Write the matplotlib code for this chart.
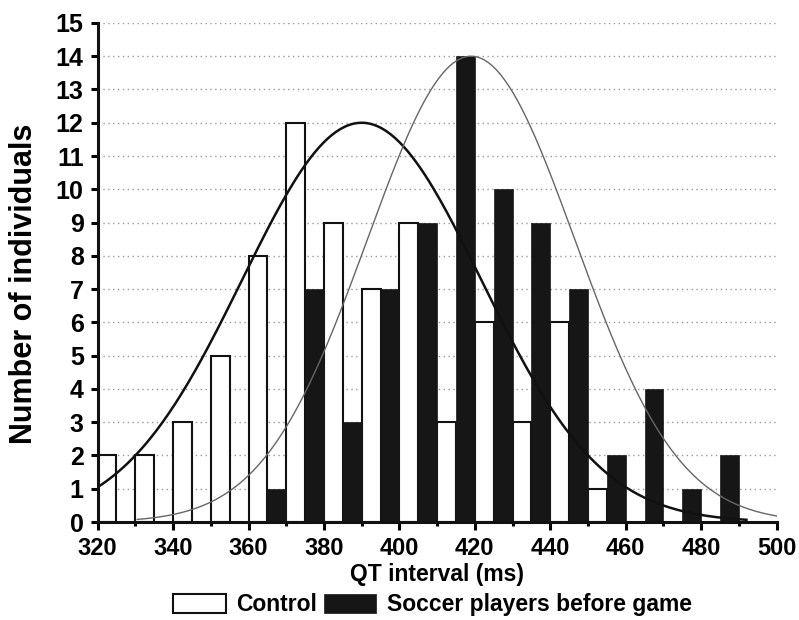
import numpy as np
import matplotlib
matplotlib.use("Agg")
import matplotlib.pyplot as plt

plt.rcParams['font.family'] = ['Liberation Sans', 'DejaVu Sans']
plt.rcParams['font.weight'] = 'bold'

# histogram counts, 10 ms bins (left edge of each bin)
control_bins = [320, 330, 340, 350, 360, 370, 380, 390, 400, 410, 420, 430, 440, 450]
control_counts = [2, 2, 3, 5, 8, 12, 9, 7, 9, 3, 6, 3, 6, 1]
soccer_bins = [360, 370, 380, 390, 400, 410, 420, 430, 440, 450, 460, 470, 480]
soccer_counts = [1, 7, 3, 7, 9, 14, 10, 9, 7, 2, 4, 1, 2]

# normal curve fits: mean, sd, peak height, x range
control_fit = dict(mean=390, sd=31.7, peak=12, start=320, end=492)
soccer_fit = dict(mean=419, sd=27.5, peak=14, start=330.5, end=500)

fig = plt.figure(figsize=(7.99, 6.2), dpi=100)
ax = fig.add_axes([0.1222, 0.158, 0.8498, 0.805])

ax.bar(control_bins, control_counts, width=5, align='edge', color='white',
       edgecolor='#111111', linewidth=1.5, label='Control', zorder=2)
ax.bar([b + 5 for b in soccer_bins], soccer_counts, width=5, align='edge', color='#161616',
       edgecolor='#161616', linewidth=0.5, label='Soccer players before game', zorder=2)


def normal_curve(fit):
    x = np.linspace(fit['start'], fit['end'], 300)
    y = fit['peak'] * np.exp(-(x - fit['mean']) ** 2 / (2 * fit['sd'] ** 2))
    return x, y


cx, cy = normal_curve(control_fit)
ax.plot(cx, cy, color='#111111', lw=1.8, zorder=3)
sx, sy = normal_curve(soccer_fit)
ax.plot(sx, sy, color='#666666', lw=1.0, zorder=3)

ax.set_xlim(320, 500)
ax.set_ylim(0, 15)
ax.set_xticks(range(320, 501, 20))
ax.set_xticks(range(330, 500, 20), minor=True)
ax.set_yticks(range(0, 16))
ax.yaxis.grid(True, linestyle=(0, (1, 2.5)), color='#999999', lw=1)
ax.set_axisbelow(True)

for s in ['top', 'right']:
    ax.spines[s].set_visible(False)
for s in ['left', 'bottom']:
    ax.spines[s].set_linewidth(2.2)
    ax.spines[s].set_color('#111111')

ax.tick_params(axis='y', direction='out', length=5, width=2.2, pad=5, labelsize=18)
ax.tick_params(axis='x', which='major', direction='out', length=6, width=2.2, pad=5, labelsize=17)
ax.tick_params(axis='x', which='minor', direction='out', length=3, width=2.2)

ax.set_ylabel('Number of individuals', fontsize=22, fontweight='bold', va='center')
ax.yaxis.set_label_coords(-0.109, 0.477)
ax.set_xlabel('QT interval (ms)', fontsize=16.5, fontweight='bold', va='center')
ax.xaxis.set_label_coords(0.5, -0.106)

fig.legend(loc='center', bbox_to_anchor=(0.541, 0.025), ncol=2, frameon=False,
           fontsize=16.5, handlelength=2.3, handleheight=0.9, handletextpad=0.45,
           columnspacing=0.3, borderpad=0, borderaxespad=0)

fig.savefig('out.png', dpi=100)
